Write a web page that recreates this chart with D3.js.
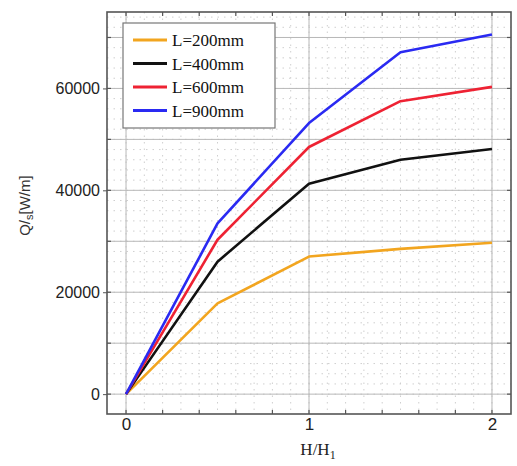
<!DOCTYPE html>
<html>
<head>
<meta charset="utf-8">
<script src="https://cdn.jsdelivr.net/npm/d3@7"></script>
<style>
  body { margin: 0; background: #fff; }
  svg { display: block; }
</style>
</head>
<body>
<div id="container"></div>
<script>
// data
const ratios = [0, 0.5, 1, 1.5, 2];
const seriesNames = ['L=200mm', 'L=400mm', 'L=600mm', 'L=900mm'];
const seriesColors = ['#f2a51f', '#111111', '#ee2233', '#2a2af2'];
const q200 = [0, 17800, 27000, 28500, 29700];
const q400 = [0, 26000, 41300, 46000, 48100];
const q600 = [0, 30300, 48500, 57500, 60300];
const q900 = [0, 33500, 53200, 67100, 70600];
const xTickLabels = [0, 1, 2];
const yTickLabels = [0, 20000, 40000, 60000];

const allSeries = [q200, q400, q600, q900];

const width = 517;
const height = 466;
const plotLeft = 107, plotRight = 511, plotTop = 12, plotBottom = 414;

const svg = d3.select('#container').append('svg')
    .attr('width', width)
    .attr('height', height);

const x = d3.scaleLinear().domain([-0.104, 2.104]).range([plotLeft, plotRight]);
const y = d3.scaleLinear().domain([-3900, 75000]).range([plotBottom, plotTop]);

// dotted minor grid
const grid = svg.append('g');
grid.selectAll('.vminor')
    .data(d3.range(0, 21).map(d => d / 10))
    .enter().append('line')
    .attr('x1', d => x(d)).attr('x2', d => x(d))
    .attr('y1', plotTop).attr('y2', plotBottom)
    .attr('stroke', '#cfcfcf')
    .attr('stroke-width', 1)
    .attr('stroke-dasharray', '1.5,5');
grid.selectAll('.hminor')
    .data(d3.range(0, 75000, 2000))
    .enter().append('line')
    .attr('x1', plotLeft).attr('x2', plotRight)
    .attr('y1', d => y(d)).attr('y2', d => y(d))
    .attr('stroke', '#cfcfcf')
    .attr('stroke-width', 1)
    .attr('stroke-dasharray', '1.5,5');

// solid major grid
grid.selectAll('.vmajor')
    .data(xTickLabels)
    .enter().append('line')
    .attr('x1', d => x(d)).attr('x2', d => x(d))
    .attr('y1', plotTop).attr('y2', plotBottom)
    .attr('stroke', '#b8b8b8')
    .attr('stroke-width', 1);
grid.selectAll('.hmajor')
    .data(d3.range(0, 75000, 10000))
    .enter().append('line')
    .attr('x1', plotLeft).attr('x2', plotRight)
    .attr('y1', d => y(d)).attr('y2', d => y(d))
    .attr('stroke', '#b8b8b8')
    .attr('stroke-width', 1);

// axes
const xAxis = d3.axisBottom(x).tickValues(xTickLabels).tickSize(0).tickPadding(4)
    .tickFormat(d3.format('d'));
svg.append('g')
    .attr('transform', `translate(0,${plotBottom})`)
    .call(xAxis)
    .call(g => g.select('.domain').remove())
    .selectAll('text')
    .attr('font-family', 'Liberation Sans, Arial, sans-serif')
    .attr('font-size', 17)
    .attr('fill', '#222');

const yAxis = d3.axisLeft(y).tickValues(yTickLabels).tickSize(4).tickPadding(3)
    .tickFormat(d3.format('d'));
svg.append('g')
    .attr('transform', `translate(${plotLeft},0)`)
    .call(yAxis)
    .call(g => g.select('.domain').remove())
    .call(g => g.selectAll('line').attr('stroke', '#555'))
    .selectAll('text')
    .attr('font-family', 'Liberation Sans, Arial, sans-serif')
    .attr('font-size', 16)
    .attr('fill', '#222');

// inward minor ticks
const ticks = svg.append('g').attr('stroke', '#555').attr('stroke-width', 1.2);
d3.range(0, 2.01, 0.2).forEach(d => {
    ticks.append('line').attr('x1', x(d)).attr('x2', x(d)).attr('y1', plotBottom).attr('y2', plotBottom - 4);
    ticks.append('line').attr('x1', x(d)).attr('x2', x(d)).attr('y1', plotTop).attr('y2', plotTop + 4);
});
d3.range(0, 75000, 10000).forEach(d => {
    ticks.append('line').attr('x1', plotLeft).attr('x2', plotLeft + 4).attr('y1', y(d)).attr('y2', y(d));
    ticks.append('line').attr('x1', plotRight).attr('x2', plotRight - 4).attr('y1', y(d)).attr('y2', y(d));
});

// lines
const line = d3.line()
    .x((d, i) => x(ratios[i]))
    .y(d => y(d));

svg.append('g')
    .selectAll('path')
    .data(allSeries)
    .enter().append('path')
    .attr('d', d => line(d))
    .attr('fill', 'none')
    .attr('stroke', (d, i) => seriesColors[i])
    .attr('stroke-width', 2.6)
    .attr('stroke-linejoin', 'round');

// frame
svg.append('rect')
    .attr('x', plotLeft).attr('y', plotTop)
    .attr('width', plotRight - plotLeft).attr('height', plotBottom - plotTop)
    .attr('fill', 'none')
    .attr('stroke', '#555')
    .attr('stroke-width', 1.6);

// legend
const legend = svg.append('g');
legend.append('rect')
    .attr('x', 123).attr('y', 23)
    .attr('width', 152).attr('height', 105)
    .attr('fill', '#fff')
    .attr('stroke', '#777')
    .attr('stroke-width', 1.2);
seriesNames.forEach((name, i) => {
    const ly = 40 + i * 23.5;
    legend.append('line')
        .attr('x1', 133).attr('x2', 167)
        .attr('y1', ly).attr('y2', ly)
        .attr('stroke', seriesColors[i])
        .attr('stroke-width', 2.8);
    legend.append('text')
        .attr('x', 172).attr('y', ly + 6)
        .attr('font-family', 'Liberation Serif, Times New Roman, serif')
        .attr('font-size', 17)
        .attr('fill', '#111')
        .text(name);
});

// axis titles
const xTitle = svg.append('text')
    .attr('x', 318).attr('y', 455)
    .attr('text-anchor', 'middle')
    .attr('font-family', 'Liberation Serif, Times New Roman, serif')
    .attr('font-size', 17)
    .attr('fill', '#222');
xTitle.append('tspan').text('H/H');
xTitle.append('tspan').attr('dy', 4).attr('font-size', 12).text('1');

const yTitle = svg.append('text')
    .attr('transform', `translate(30,${y(37000)}) rotate(-90)`)
    .attr('text-anchor', 'middle')
    .attr('font-family', 'Liberation Sans, Arial, sans-serif')
    .attr('font-size', 15)
    .attr('fill', '#333');
yTitle.append('tspan').text('Q/');
yTitle.append('tspan').attr('dy', 3).attr('font-size', 11).text('s');
yTitle.append('tspan').attr('dy', -3).text('[W/m]');
</script>
</body>
</html>
